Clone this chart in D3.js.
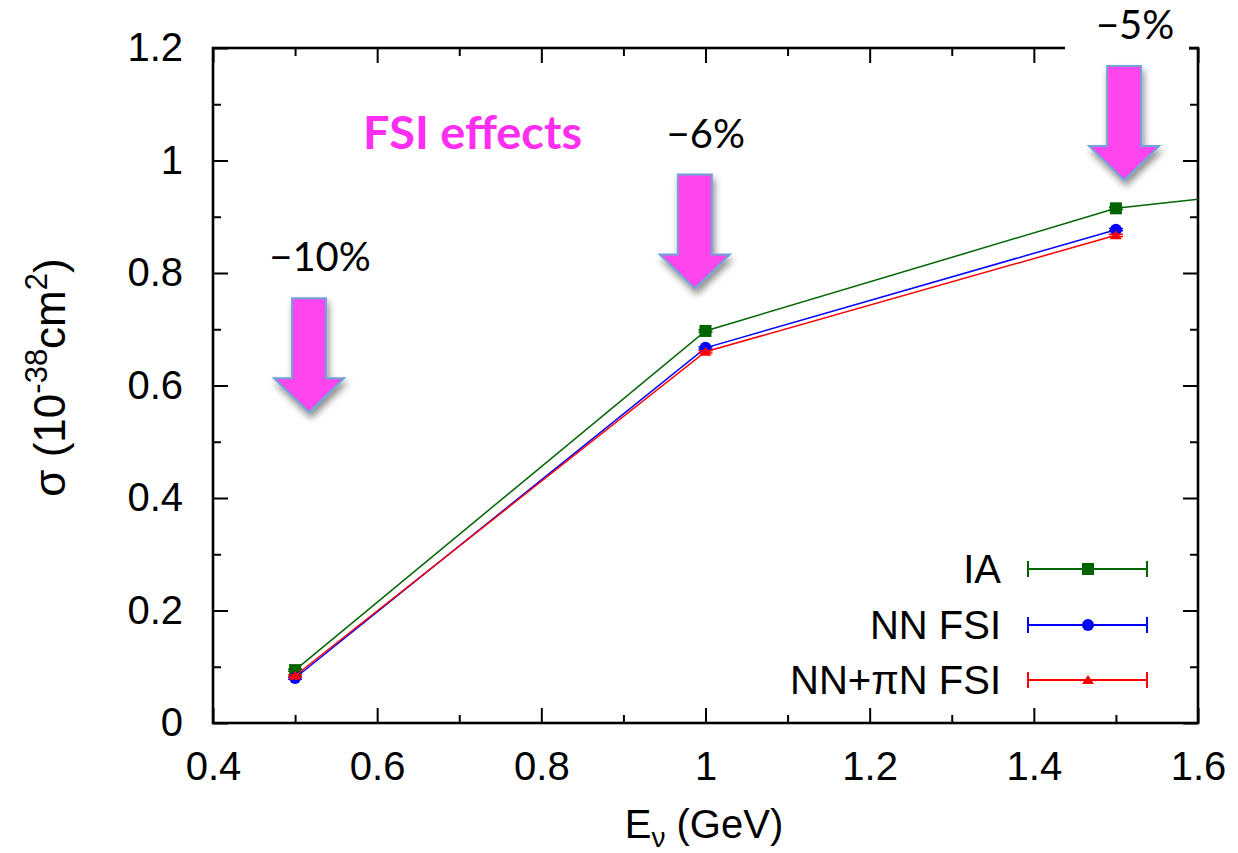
<!DOCTYPE html>
<html>
<head>
<meta charset="utf-8">
<script src="https://cdn.jsdelivr.net/npm/d3@7"></script>
<style>
  html, body { margin: 0; padding: 0; background: #fff; }
  svg { display: block; }
</style>
</head>
<body>
<svg id="chart" width="1238" height="853"></svg>
<script>
// Neutrino energies (GeV) and total cross sections (10^-38 cm^2)
const energiesIA = [0.5, 1.0, 1.5, 2.0];
const sigmaIA = [0.094, 0.697, 0.915, 0.995];
const energiesNN = [0.5, 1.0, 1.5];
const sigmaNN = [0.080, 0.667, 0.877];
const energiesNNpiN = [0.5, 1.0, 1.5];
const sigmaNNpiN = [0.084, 0.660, 0.867];
const sigmaErr = 0.002;

// Tick values
const xMajorTicks = [0.4, 0.6, 0.8, 1.0, 1.2, 1.4, 1.6];
const xMinorTicks = [0.5, 0.7, 0.9, 1.1, 1.3, 1.5];
const yMajorTicks = [0, 0.2, 0.4, 0.6, 0.8, 1.0, 1.2];
const yMinorTicks = [0.1, 0.3, 0.5, 0.7, 0.9, 1.1];

// Legend entries
const seriesNames = ["IA", "NN FSI", "NN+\u03c0N FSI"];
const seriesColors = ["#006400", "#0000ff", "#ff0000"];
const seriesSymbols = ["square", "circle", "triangle"];

// FSI reduction annotations: energy the arrow sits over and label
const fsiEnergies = [0.517, 0.987, 1.51];
const fsiLabels = ["\u221210%", "\u22126%", "\u22125%"];
const fsiArrowTop = [0.755, 0.975, 1.168]; // sigma at top of the arrow shaft

const svg = d3.select("#chart");
const plotLeft = 213, plotRight = 1198, plotTop = 48, plotBottom = 723;

const x = d3.scaleLinear().domain([0.4, 1.6]).range([plotLeft, plotRight]);
const y = d3.scaleLinear().domain([0, 1.2]).range([plotBottom, plotTop]);

const fmt = d => String(+d.toFixed(1));
const tickFont = "'Liberation Sans', Arial, Helvetica, sans-serif";

svg.append("defs").html(`
  <clipPath id="plotClip"><rect x="${plotLeft}" y="${plotTop}" width="${plotRight-plotLeft}" height="${plotBottom-plotTop}"/></clipPath>
  <filter id="arrowShadow" x="-40%" y="-20%" width="180%" height="160%">
    <feDropShadow dx="2" dy="5" stdDeviation="3.5" flood-color="#000" flood-opacity="0.45"/>
  </filter>
`);

// Axes: ticks point inward on all four sides
function styleAxis(g) {
  g.select(".domain").remove();
  g.selectAll(".tick line").attr("stroke", "#000").attr("stroke-width", 2);
  g.selectAll("text").attr("font-family", tickFont).attr("font-size", 40).attr("fill", "#000");
}

svg.append("g").attr("transform", `translate(0,${plotBottom})`)
  .call(d3.axisBottom(x).tickValues(xMajorTicks).tickSize(-15).tickPadding(29).tickFormat(fmt))
  .call(styleAxis);
svg.append("g").attr("transform", `translate(0,${plotBottom})`)
  .call(d3.axisBottom(x).tickValues(xMinorTicks).tickSize(-8).tickFormat(""))
  .call(styleAxis);
svg.append("g").attr("transform", `translate(0,${plotTop})`)
  .call(d3.axisTop(x).tickValues(xMajorTicks).tickSize(-15).tickFormat(""))
  .call(styleAxis);
svg.append("g").attr("transform", `translate(0,${plotTop})`)
  .call(d3.axisTop(x).tickValues(xMinorTicks).tickSize(-8).tickFormat(""))
  .call(styleAxis);
svg.append("g").attr("transform", `translate(${plotLeft},0)`)
  .call(d3.axisLeft(y).tickValues(yMajorTicks).tickSize(-15).tickPadding(30).tickFormat(fmt))
  .call(styleAxis);
svg.append("g").attr("transform", `translate(${plotLeft},0)`)
  .call(d3.axisLeft(y).tickValues(yMinorTicks).tickSize(-8).tickFormat(""))
  .call(styleAxis);
svg.append("g").attr("transform", `translate(${plotRight},0)`)
  .call(d3.axisRight(y).tickValues(yMajorTicks).tickSize(-15).tickFormat(""))
  .call(styleAxis);
svg.append("g").attr("transform", `translate(${plotRight},0)`)
  .call(d3.axisRight(y).tickValues(yMinorTicks).tickSize(-8).tickFormat(""))
  .call(styleAxis);

// Frame
svg.append("rect")
  .attr("x", plotLeft).attr("y", plotTop).attr("width", plotRight - plotLeft).attr("height", plotBottom - plotTop)
  .attr("fill", "none").attr("stroke", "#000").attr("stroke-width", 2.6);

// Axis titles
svg.append("text")
  .attr("x", 704).attr("y", 838)
  .attr("text-anchor", "middle")
  .attr("font-family", tickFont).attr("font-size", 40)
  .html('E<tspan dy="9" font-size="28">\u03bd</tspan><tspan dy="-9"> (GeV)</tspan>');

svg.append("text")
  .attr("transform", `translate(65,${(plotTop + plotBottom) / 2 - 8}) rotate(-90)`)
  .attr("text-anchor", "middle")
  .attr("font-family", tickFont).attr("font-size", 44)
  .html('\u03c3 (10<tspan dy="-18" font-size="31">-38</tspan><tspan dy="18">cm</tspan><tspan dy="-18" font-size="31">2</tspan><tspan dy="18">)</tspan>');

// Series
const series = [
  { xs: energiesIA, ys: sigmaIA },
  { xs: energiesNN, ys: sigmaNN },
  { xs: energiesNNpiN, ys: sigmaNNpiN }
];

const plot = svg.append("g").attr("clip-path", "url(#plotClip)");
const line = d3.line().x(d => x(d[0])).y(d => y(d[1]));

function drawSymbol(g, type, cx, cy, color) {
  if (type === "square") {
    g.append("rect").attr("x", cx - 6).attr("y", cy - 6).attr("width", 12).attr("height", 12).attr("fill", color);
  } else if (type === "circle") {
    g.append("circle").attr("cx", cx).attr("cy", cy).attr("r", 6).attr("fill", color);
  } else {
    g.append("path").attr("d", `M${cx - 6},${cy + 4}L${cx + 6},${cy + 4}L${cx},${cy - 5}Z`).attr("fill", color);
  }
}

series.forEach((s, i) => {
  const pts = s.xs.map((v, j) => [v, s.ys[j]]);
  plot.append("path").attr("d", line(pts))
    .attr("fill", "none").attr("stroke", seriesColors[i]).attr("stroke-width", 1.5);
  pts.forEach(p => {
    const cx = x(p[0]), cy = y(p[1]);
    // small error bars with caps
    plot.append("path")
      .attr("d", `M${cx},${y(p[1] - sigmaErr)}V${y(p[1] + sigmaErr)}M${cx - 7},${y(p[1] - sigmaErr)}H${cx + 7}M${cx - 7},${y(p[1] + sigmaErr)}H${cx + 7}`)
      .attr("stroke", seriesColors[i]).attr("stroke-width", 1.5).attr("fill", "none");
    drawSymbol(plot, seriesSymbols[i], cx, cy, seriesColors[i]);
  });
});

// Legend
const legendY = [569, 625, 680];
seriesNames.forEach((name, i) => {
  const g = svg.append("g");
  const ly = legendY[i];
  g.append("text").attr("x", 1001).attr("y", ly).attr("dy", "0.35em")
    .attr("text-anchor", "end").attr("font-family", tickFont).attr("font-size", 40).text(name);
  g.append("path")
    .attr("d", `M1028,${ly}H1147M1028,${ly - 8}V${ly + 8}M1147,${ly - 8}V${ly + 8}`)
    .attr("stroke", seriesColors[i]).attr("stroke-width", 2).attr("fill", "none");
  drawSymbol(g, seriesSymbols[i], 1088, ly, seriesColors[i]);
});

// FSI arrows and labels
const annoFont = "Lato, 'Open Sans', sans-serif";
const shaftW = 34, headW = 70, shaftLen = 80, headLen = 34;
fsiEnergies.forEach((e, i) => {
  const cx = x(e);
  const ty = y(fsiArrowTop[i]);
  if (i === 2) {
    // clear the frame behind the top label
    svg.append("rect").attr("x", 1065).attr("y", 14).attr("width", 124).attr("height", 42).attr("fill", "#fff");
  }
  svg.append("text")
    .attr("x", cx + 11).attr("y", ty - 27)
    .attr("text-anchor", "middle")
    .attr("font-family", annoFont).attr("font-size", 40).attr("fill", "#000")
    .text(fsiLabels[i]);
  const d = `M${cx - shaftW / 2},${ty}H${cx + shaftW / 2}V${ty + shaftLen}H${cx + headW / 2}L${cx},${ty + shaftLen + headLen}L${cx - headW / 2},${ty + shaftLen}H${cx - shaftW / 2}Z`;
  svg.append("path").attr("d", d)
    .attr("fill", "#ff45ee").attr("stroke", "#6fa3d6").attr("stroke-width", 2)
    .attr("stroke-linejoin", "miter")
    .attr("filter", "url(#arrowShadow)");
});

svg.append("text")
  .attr("x", 363).attr("y", 149)
  .attr("font-family", annoFont).attr("font-weight", "bold").attr("font-size", 45)
  .attr("fill", "#ff2ef0")
  .attr("textLength", 219).attr("lengthAdjust", "spacingAndGlyphs")
  .text("FSI effects");
</script>
</body>
</html>
